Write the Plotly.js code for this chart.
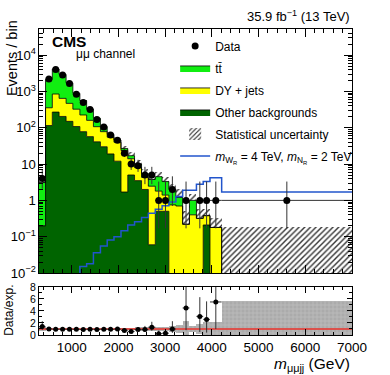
<!DOCTYPE html>
<html>
<head>
<meta charset="utf-8">
<script src="https://cdn.plot.ly/plotly-3.0.1.min.js"></script>
<style>
  html, body { margin: 0; padding: 0; background: #fff; }
  #chart { width: 390px; height: 375px; }
</style>
</head>
<body>
<div id="chart"></div>
<script>
// bin edges in GeV (first bin narrow, last bin is the wide overflow bin)
const edges = [300, 440, 585, 730, 880, 1025, 1175, 1320, 1465, 1615, 1760, 1905, 2055, 2200,
  2345, 2495, 2640, 2790, 2935, 3080, 3230, 3375, 3520, 3670, 3815, 3960, 4210, 7000];

// stacked backgrounds, events / bin
const otherBkg = [0.2, 115, 270, 205, 150, 108, 78, 57, 41, 30, 19, 12, 1.7, 5, 3.5, 2,
  0.06, 0.5, 0.5, 0, 0, 0, 0, 0, 0.21, 0, 0];
const dyJets = [0, 240, 580, 440, 320, 217, 147, 103, 66, 48, 36, 28, 22, 9, 4.5, 2.3,
  2.4, 1.3, 0.9, 0.75, 0.7, 0.22, 0.4, 0.32, 0.17, 0.18, 0];
const ttbar = [2.9, 1800, 3300, 2300, 1250, 560, 330, 170, 75, 30, 11, 6, 3, 3, 2, 1.2,
  1.3, 2.7, 1.9, 1.25, 0.5, 0, 0.6, 0, 0, 0, 0];
const statUnc = [0.8, 20, 30, 25, 18, 12, 10, 8, 6, 5, 5, 5, 5, 4, 3, 2,
  1.3, 1.4, 1.2, 0.9, 0.8, 0.3, 0.5, 0.25, 0.2, 0.15, 0.18];

// signal mWR = 4 TeV, mNR = 2 TeV
const signal = [0, 0, 0, 0, 0, 0, 0.015, 0.018, 0.036, 0.055, 0.081, 0.1, 0.146, 0.21, 0.26, 0.34,
  0.44, 0.57, 0.71, 0.9, 1.27, 1.9, 1.9, 2.76, 3.3, 4.2, 1.7];

// observed data with Poisson errors
const dataObs = [4, 2200, 4000, 2850, 1650, 840, 500, 320, 170, 105, 63, 45, 20, 10, 9, 5,
  5, 1, 1, 2, null, 1, null, 1, 1, 1, 1];
const dataErrUp = [3.16, 47, 64, 54, 41, 29, 23, 18.4, 14, 11, 9, 7.8, 5.5, 4.3, 4.1, 3.4,
  3.4, 2.3, 2.3, 2.6, null, 2.3, null, 2.3, 2.3, 2.3, 2.3];
const dataErrDn = [1.9, 47, 63, 53, 40, 29, 22, 17.4, 13, 10, 7.9, 6.7, 4.4, 3.1, 2.9, 2.2,
  2.2, 0.83, 0.83, 1.3, null, 0.83, null, 0.83, 0.83, 0.83, 0.83];

// ratio panel
const ratio = [1.4, 1.02, 0.97, 0.97, 0.96, 0.95, 0.9, 0.97, 0.93, 0.97, 0.95, 0.98, 0.77, 0.59, 0.9, 0.91,
  1.3, 0.22, 0.3, 1.0, null, 4.5, null, 3.1, 2.6, 5.5, null];
const ratioErrUp = [0.9, 0.03, 0.02, 0.02, 0.03, 0.04, 0.05, 0.06, 0.08, 0.1, 0.14, 0.17, 0.22, 0.26, 0.4, 0.6,
  0.9, 0.5, 0.7, 1.3, null, 10, null, 3.2, 3.0, 9, null];
const ratioErrDn = [0.55, 0.03, 0.02, 0.02, 0.03, 0.04, 0.05, 0.06, 0.08, 0.1, 0.12, 0.15, 0.17, 0.18, 0.3, 0.4,
  0.6, 0.18, 0.25, 0.65, null, 3.7, null, 2.6, 2.2, 4.5, null];
const ratioUnc = [0.26, 0.01, 0.01, 0.01, 0.01, 0.015, 0.02, 0.025, 0.035, 0.05, 0.08, 0.12, 0.18, 0.24, 0.3, 0.36,
  0.34, 0.3, 0.36, 0.45, 0.67, 1.4, 0.5, 0.8, 1.1, 1.2, 4.6];

const xTicks = [1000, 2000, 3000, 4000, 5000, 6000, 7000];

// helpers
const FLOOR = 1e-3; // below the log axis range
const centers = edges.slice(0, -1).map((e, i) => (e + edges[i + 1]) / 2);
const widths = edges.slice(0, -1).map((e, i) => edges[i + 1] - e);
const halfW = widths.map(w => w / 2);
const step = v => [...v, v[v.length - 1]];
const floorLog = v => v.map(a => Math.max(a, FLOOR));

const cumDY = otherBkg.map((o, i) => o + dyJets[i]);
const total = cumDY.map((c, i) => c + ttbar[i]);
const uncLo = total.map((t, i) => Math.max(t - statUnc[i], FLOOR));
const uncHi = total.map((t, i) => t + statUnc[i]);
const bandLo = ratioUnc.map(u => Math.max(1 - u, 0));
const bandHi = ratioUnc.map(u => 1 + u);

const darkGreen = "#006400";
const yellow = "#ffff00";
const green = "#11ee11";
const outline = { shape: "hv", color: "#000", width: 0.8 };

const traces = [
  {
    x: edges, y: step(floorLog(otherBkg.map(() => 0))), xaxis: "x", yaxis: "y",
    mode: "lines", line: { shape: "hv", width: 0 }, showlegend: false, hoverinfo: "skip"
  },
  {
    x: edges, y: step(floorLog(otherBkg)), xaxis: "x", yaxis: "y", mode: "lines",
    fill: "tonexty", fillcolor: darkGreen, line: outline,
    name: "Other backgrounds", legendrank: 4, legendgroup: "g4"
  },
  {
    x: edges, y: step(floorLog(cumDY)), xaxis: "x", yaxis: "y", mode: "lines",
    fill: "tonexty", fillcolor: yellow, line: outline,
    name: "DY + jets", legendrank: 3, legendgroup: "g3"
  },
  {
    x: edges, y: step(floorLog(total)), xaxis: "x", yaxis: "y", mode: "lines",
    fill: "tonexty", fillcolor: green, line: outline,
    name: "tt\u0304", legendrank: 2, legendgroup: "g2"
  },
  {
    type: "bar", x: centers, width: widths, base: uncLo, y: uncHi.map((h, i) => h - uncLo[i]),
    xaxis: "x", yaxis: "y",
    marker: {
      color: "rgba(0,0,0,0)", line: { width: 0 },
      pattern: { shape: "/", fgcolor: "#333", bgcolor: "rgba(0,0,0,0)", size: 4, solidity: 0.35 }
    },
    name: "Statistical uncertainty", legendrank: 5, legendgroup: "g5"
  },
  {
    x: edges, y: step(floorLog(signal)), xaxis: "x", yaxis: "y", mode: "lines",
    line: { shape: "hv", color: "#2255cc", width: 1.5 },
    name: "<i>m</i><sub>W<sub>R</sub></sub> = 4 TeV, <i>m</i><sub>N<sub>R</sub></sub> = 2 TeV",
    legendrank: 6, legendgroup: "g6"
  },
  {
    x: centers, y: dataObs, xaxis: "x", yaxis: "y", mode: "markers",
    marker: { color: "#000", size: 7 },
    error_y: { type: "data", symmetric: false, array: dataErrUp, arrayminus: dataErrDn,
      color: "#333", thickness: 1, width: 0 },
    error_x: { type: "data", array: halfW, color: "#333", thickness: 1, width: 0 },
    name: "Data", legendrank: 1, legendgroup: "g1"
  },
  // ratio panel
  {
    type: "bar", x: centers, width: widths, base: bandLo, y: bandHi.map((h, i) => h - bandLo[i]),
    xaxis: "x2", yaxis: "y2", showlegend: false, hoverinfo: "skip",
    marker: {
      color: "#ababab", line: { width: 0 },
      pattern: { shape: "+", fgcolor: "#d4d4d4", size: 4, solidity: 0.3, fillmode: "overlay" }
    }
  },
  {
    x: [edges[0], edges[edges.length - 1]], y: [1, 1], xaxis: "x2", yaxis: "y2",
    mode: "lines", line: { color: "#e8302a", width: 1.5 }, showlegend: false, hoverinfo: "skip"
  },
  {
    x: centers, y: ratio, xaxis: "x2", yaxis: "y2", mode: "markers",
    marker: { color: "#000", size: 5 },
    error_y: { type: "data", symmetric: false, array: ratioErrUp, arrayminus: ratioErrDn,
      color: "#333", thickness: 1, width: 0 },
    error_x: { type: "data", array: halfW, color: "#333", thickness: 1, width: 0 },
    showlegend: false
  }
];

const frame = {
  showline: true, linecolor: "#000", linewidth: 1, mirror: "ticks",
  ticks: "inside", tickcolor: "#000", showgrid: false, zeroline: false
};

const layout = {
  width: 390, height: 375,
  margin: { l: 39, r: 38, t: 29, b: 40 },
  paper_bgcolor: "#fff", plot_bgcolor: "#fff",
  font: { family: "Liberation Sans, Arial, sans-serif", color: "#000", size: 13 },
  barmode: "overlay", bargap: 0,
  showlegend: true,
  legend: {
    x: 0.435, y: 0.992, xanchor: "left", yanchor: "top",
    bgcolor: "rgba(0,0,0,0)", font: { size: 12 },
    traceorder: "grouped", tracegroupgap: 3, itemwidth: 30
  },
  xaxis: Object.assign({}, frame, {
    range: [edges[0], edges[edges.length - 1]], anchor: "y", domain: [0, 1],
    showticklabels: false, ticklen: 8, tick0: 0, dtick: 1000,
    minor: { ticks: "inside", ticklen: 4, tick0: 0, dtick: 200, tickcolor: "#000" }
  }),
  yaxis: Object.assign({}, frame, {
    type: "log", range: [-2, 4.72], anchor: "x", domain: [0.2026, 1],
    dtick: 1, exponentformat: "power", ticklen: 8, tickfont: { size: 10.5 },
    minor: { ticks: "inside", ticklen: 4, dtick: "D1", tickcolor: "#000" }
  }),
  xaxis2: Object.assign({}, frame, {
    range: [edges[0], edges[edges.length - 1]], anchor: "y2", domain: [0, 1],
    tickvals: xTicks, ticklen: 6, tickfont: { size: 13.5 },
    minor: { ticks: "inside", ticklen: 3, tick0: 0, dtick: 200, tickcolor: "#000" }
  }),
  yaxis2: Object.assign({}, frame, {
    range: [0, 8], anchor: "x2", domain: [0, 0.157],
    dtick: 2, ticklen: 5, tickfont: { size: 10.5 },
    minor: { ticks: "inside", ticklen: 3, dtick: 1, tickcolor: "#000" }
  }),
  annotations: [
    { xref: "paper", yref: "paper", x: 0.096, y: 0.958, text: "<b>CMS</b>", showarrow: false,
      font: { size: 15.5 }, xanchor: "center", yanchor: "middle" },
    { xref: "paper", yref: "paper", x: 0.214, y: 0.918, text: "\u03bc\u03bc channel", showarrow: false,
      font: { size: 12 }, xanchor: "center", yanchor: "middle" },
    { xref: "paper", yref: "paper", x: 1, y: 1.042, text: "35.9 fb<sup>\u22121</sup> (13 TeV)",
      showarrow: false, font: { size: 13 }, xanchor: "right", yanchor: "middle" },
    { xref: "paper", yref: "paper", x: -0.086, y: 1.036, text: "Events / bin", textangle: -90,
      showarrow: false, font: { size: 14.5 }, xanchor: "center", yanchor: "top" },
    { xref: "paper", yref: "paper", x: -0.096, y: 0.082, text: "Data/exp.", textangle: -90,
      showarrow: false, font: { size: 12 }, xanchor: "center", yanchor: "middle" },
    { xref: "paper", yref: "paper", x: 1, y: -0.098,
      text: "<i>m</i><sub>\u03bc\u03bcjj</sub> (GeV)",
      showarrow: false, font: { size: 15.5 }, xanchor: "right", yanchor: "middle" }
  ]
};

Plotly.newPlot("chart", traces, layout, { staticPlot: true, displayModeBar: false });
</script>
</body>
</html>
